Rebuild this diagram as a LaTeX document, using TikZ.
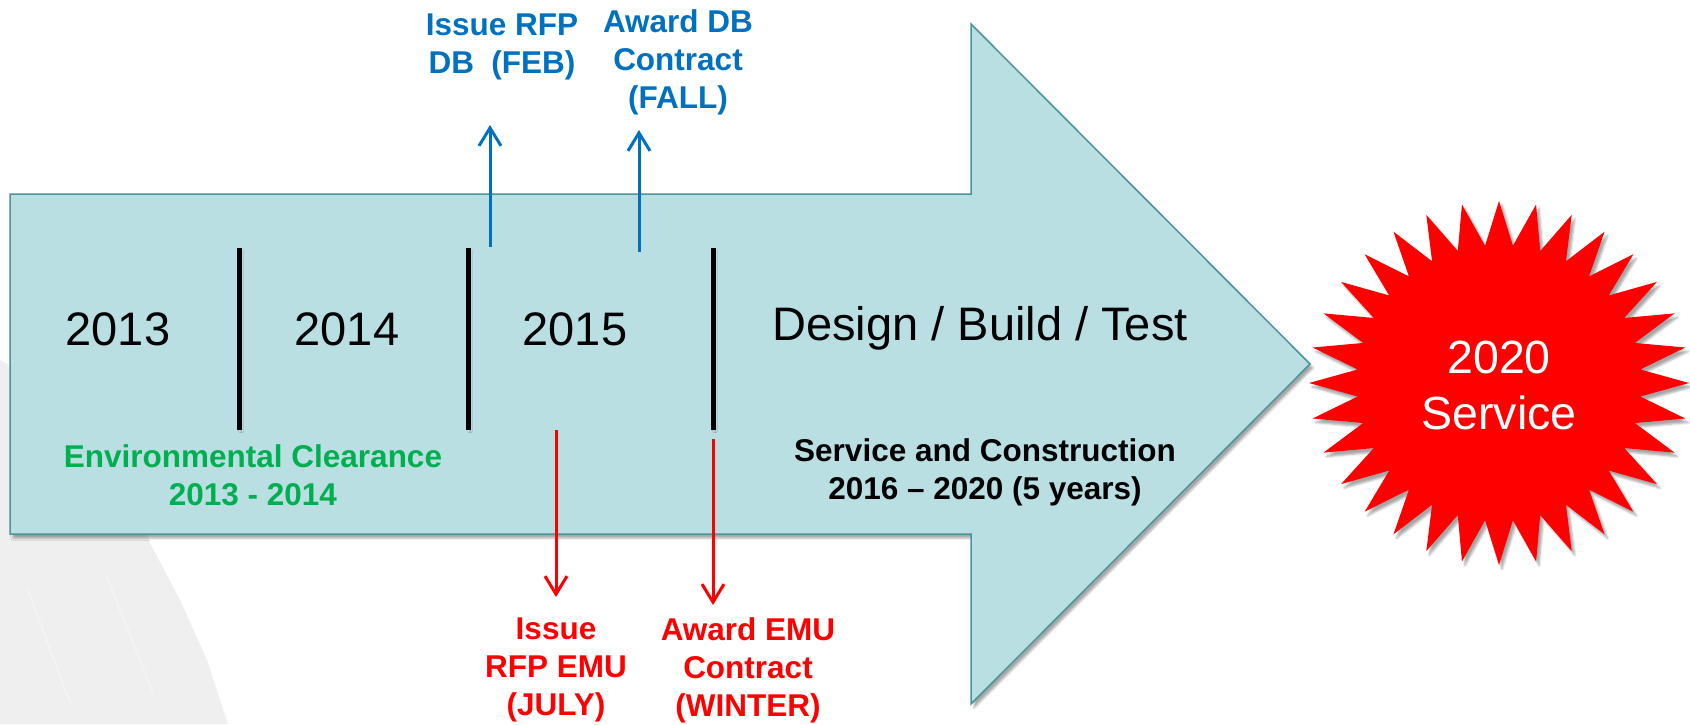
\documentclass[tikz,border=0pt]{standalone}
\usepackage{fontspec}
\setmainfont{Liberation Sans}
\usetikzlibrary{arrows.meta,shadows.blur}
\definecolor{arrowfill}{RGB}{186,223,227}
\definecolor{arrowdraw}{RGB}{74,148,156}
\definecolor{dbblue}{RGB}{0,112,192}
\definecolor{envgreen}{RGB}{0,176,80}
\definecolor{wm}{RGB}{239,239,239}
\definecolor{burst}{RGB}{255,0,0}
\begin{document}
\begin{tikzpicture}[x=1pt,y=-1pt,
  year/.style={font=\fontsize{47}{56}\selectfont, inner sep=0pt},
  lbl/.style={font=\bfseries\fontsize{31.5}{38}\selectfont, align=center, inner sep=0pt},
  divider/.style={line width=5pt, black, blur shadow={shadow xshift=2pt, shadow yshift=-2pt, shadow opacity=25}},
  uparr/.style={dbblue, line width=3pt, -{Straight Barb[length=18pt,width=22pt]}},
  downarr/.style={burst, line width=3pt, -{Straight Barb[length=18pt,width=22pt]}}
]
\useasboundingbox (0,0) rectangle (1690,724);
% faint watermark
\fill[wm] (0,360) -- (70,400) -- (130,480) -- (150,543) -- (180,600) -- (207,660) -- (228,724) -- (0,724) -- cycle;
\draw[white, line width=2pt, opacity=0.3] (28,590) -- (70,703);
\draw[white, line width=2pt, opacity=0.3] (107,577) -- (153,693);
% main arrow
\path[fill=arrowfill, draw=arrowdraw, line width=1.5pt, line join=miter,
  blur shadow={shadow xshift=3pt, shadow yshift=-4pt, shadow opacity=35}]
  (10,194) -- (971,194) -- (971,24) -- (1310,364) -- (971,704) -- (971,534) -- (10,534) -- cycle;
% dividers
\draw[divider] (239,248) -- (239,430);
\draw[divider] (468,248) -- (468,430);
\draw[divider] (713,248) -- (713,430);
% year texts
\node[year] (y13) at (118,329) {2013};
\node[year] (y14) at (347,329) {2014};
\node[year] (y15) at (575,329) {2015};
\node[year] (dbt) at (980,328) {Design / Build / Test};
\node[lbl, text=envgreen] (env) at (253,475) {Environmental Clearance\\2013 - 2014};
\node[lbl, text=black] (sc) at (985,472) {Service and Construction\\2016 – 2020 (5 years)};
% blue labels and arrows
\node[lbl, text=dbblue] (rfpdb) at (502,47) {Issue RFP\\DB~ (FEB)};
\node[lbl, text=dbblue] (awdb) at (678,62) {Award DB\\Contract\\(FALL)};
\coordinate (b1s) at (490,247);
\coordinate (b1e) at (490,125);
\coordinate (b2s) at (639,252);
\coordinate (b2e) at (639,130);
\draw[uparr] (b1s) -- (b1e);
\draw[uparr] (b2s) -- (b2e);
% red labels and arrows
\node[lbl, text=burst] (rfpemu) at (556,670) {Issue\\RFP EMU\\(JULY)};
\node[lbl, text=burst] (awemu) at (748,670) {Award EMU\\Contract\\(WINTER)};
\coordinate (r1s) at (556,430);
\coordinate (r1e) at (556,597);
\coordinate (r2s) at (713,439);
\coordinate (r2e) at (713,605);
\draw[downarr] (r1s) -- (r1e);
\draw[downarr] (r2s) -- (r2e);
% starburst
\path[fill=burst, blur shadow={shadow xshift=3pt, shadow yshift=-4pt, shadow opacity=35}]
  (1689,383)
  \foreach \k in {1,...,31} {
    -- ({1499+142*cos(\k*11.25-5.625)}, {383+138*sin(\k*11.25-5.625)})
    -- ({1499+190*cos(\k*11.25)}, {383+182*sin(\k*11.25)})
  }
  -- ({1499+142*cos(354.375)}, {383+138*sin(354.375)}) -- cycle;
\node[font=\fontsize{46.5}{56}\selectfont, text=white, align=center, inner sep=0pt] (svc) at (1499,385) {2020\\Service};
\end{tikzpicture}
\end{document}
